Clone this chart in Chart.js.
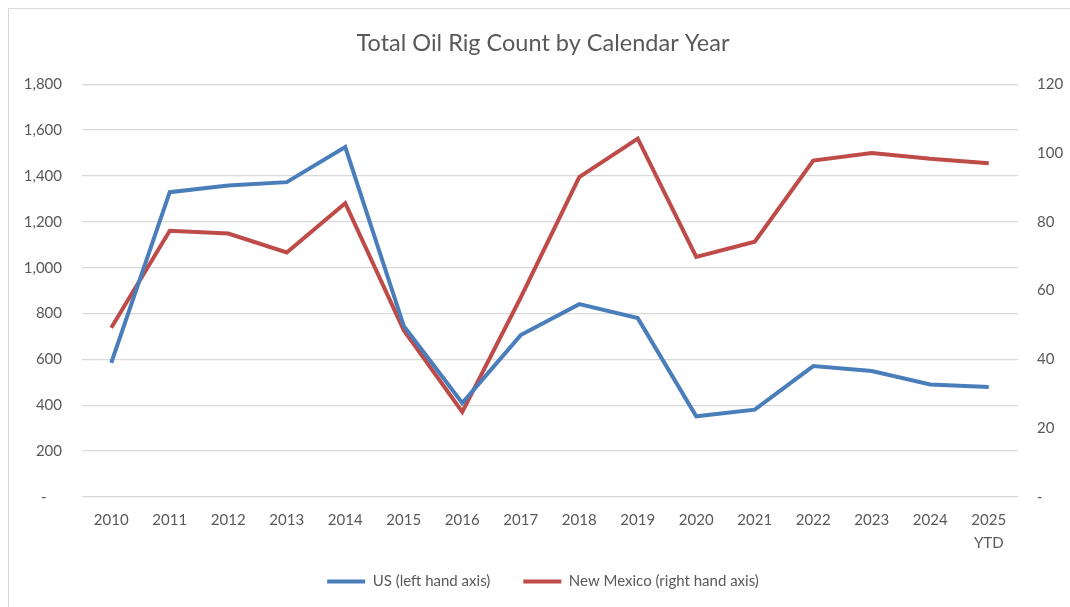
<!DOCTYPE html>
<html>
<head>
<meta charset="utf-8">
<script src="https://cdn.jsdelivr.net/npm/chart.js@4.4.1/dist/chart.umd.min.js"></script>
<style>
  body { margin: 0; background: #fff; }
  #wrap { position: relative; width: 1070px; height: 607px; }
  #frame { position: absolute; left: 8px; top: 8px; right: 0; bottom: 0; border-left: 1px solid #d9d9d9; border-top: 1px solid #d9d9d9; }
  canvas { position: absolute; left: 0; top: 0; }
</style>
</head>
<body>
<div id="wrap">
  <div id="frame"></div>
  <canvas id="rigCanvas" width="1070" height="607"></canvas>
</div>
<script>
var years = ['2010','2011','2012','2013','2014','2015','2016','2017','2018','2019','2020','2021','2022','2023','2024',['2025','YTD']];
var usRigs = [585, 1329, 1358, 1373, 1526, 746, 410, 706, 841, 780, 352, 381, 571, 549, 491, 480];
var nmRigs = [49.2, 77.4, 76.6, 71.1, 85.4, 48.5, 24.7, 58, 93, 104.2, 69.8, 74.2, 97.8, 100, 98.3, 97];

var grey = '#595959';
var tickFont = { family: 'Lato', size: 15, lineHeight: 1.5 };

var chartData = {
    labels: years,
    datasets: [
        {
            label: 'US (left hand axis)',
            data: usRigs,
            yAxisID: 'yLeft',
            borderColor: '#4A7EBB',
            backgroundColor: '#4A7EBB',
            borderWidth: 4,
            pointRadius: 0,
            tension: 0
        },
        {
            label: 'New Mexico (right hand axis)',
            data: nmRigs,
            yAxisID: 'yRight',
            borderColor: '#BE4B48',
            backgroundColor: '#BE4B48',
            borderWidth: 4,
            pointRadius: 0,
            tension: 0
        }]
};

var ctx = document.getElementById('rigCanvas').getContext('2d');
var rigChart = new Chart(ctx, {
    type: 'line',
    data: chartData,
    options: {
        responsive: false,
        animation: false,
        layout: { padding: { left: 16, right: 0, top: 0, bottom: 8 } },
        plugins: {
            title: {
                display: true,
                text: 'Total Oil Rig Count by Calendar Year',
                color: grey,
                font: { family: 'Lato', size: 23.5, weight: 'normal' },
                padding: { top: 29, bottom: 27 }
            },
            legend: {
                position: 'bottom',
                labels: {
                    usePointStyle: true,
                    pointStyle: 'line',
                    pointStyleWidth: 38,
                    color: grey,
                    font: { family: 'Lato', size: 15 },
                    padding: 10,
                    generateLabels: function(chart){
                        var items = Chart.defaults.plugins.legend.labels.generateLabels(chart);
                        items.forEach(function(it, i){
                            it.lineWidth = 4;
                            if (i < items.length - 1) it.text = it.text + '      ';
                        });
                        return items;
                    }
                }
            },
            tooltip: { enabled: false }
        },
        scales: {
            x: {
                offset: true,
                grid: { display: false, drawTicks: false },
                border: { display: false },
                ticks: { color: grey, font: tickFont, padding: 12, maxRotation: 0, autoSkip: false },
                afterFit: function(scale){ scale.height -= 2; }
            },
            yLeft: {
                position: 'left',
                min: 0,
                max: 1800,
                grid: { color: '#d9d9d9', lineWidth: 1.3, drawTicks: false },
                border: { display: false },
                ticks: {
                    stepSize: 200,
                    color: grey,
                    font: tickFont,
                    padding: 20,
                    callback: function(v){ return v === 0 ? '-    ' : v.toLocaleString('en-US'); }
                },
                afterFit: function(scale){ scale.width = 66; }
            },
            yRight: {
                position: 'right',
                min: 0,
                max: 120,
                grid: { display: false, drawTicks: false },
                border: { display: false },
                ticks: {
                    stepSize: 20,
                    color: grey,
                    font: tickFont,
                    padding: 19,
                    callback: function(v){ return v === 0 ? '-' : v; }
                },
                afterFit: function(scale){ scale.width = 52; }
            }
        }
    }
});
</script>
</body>
</html>
